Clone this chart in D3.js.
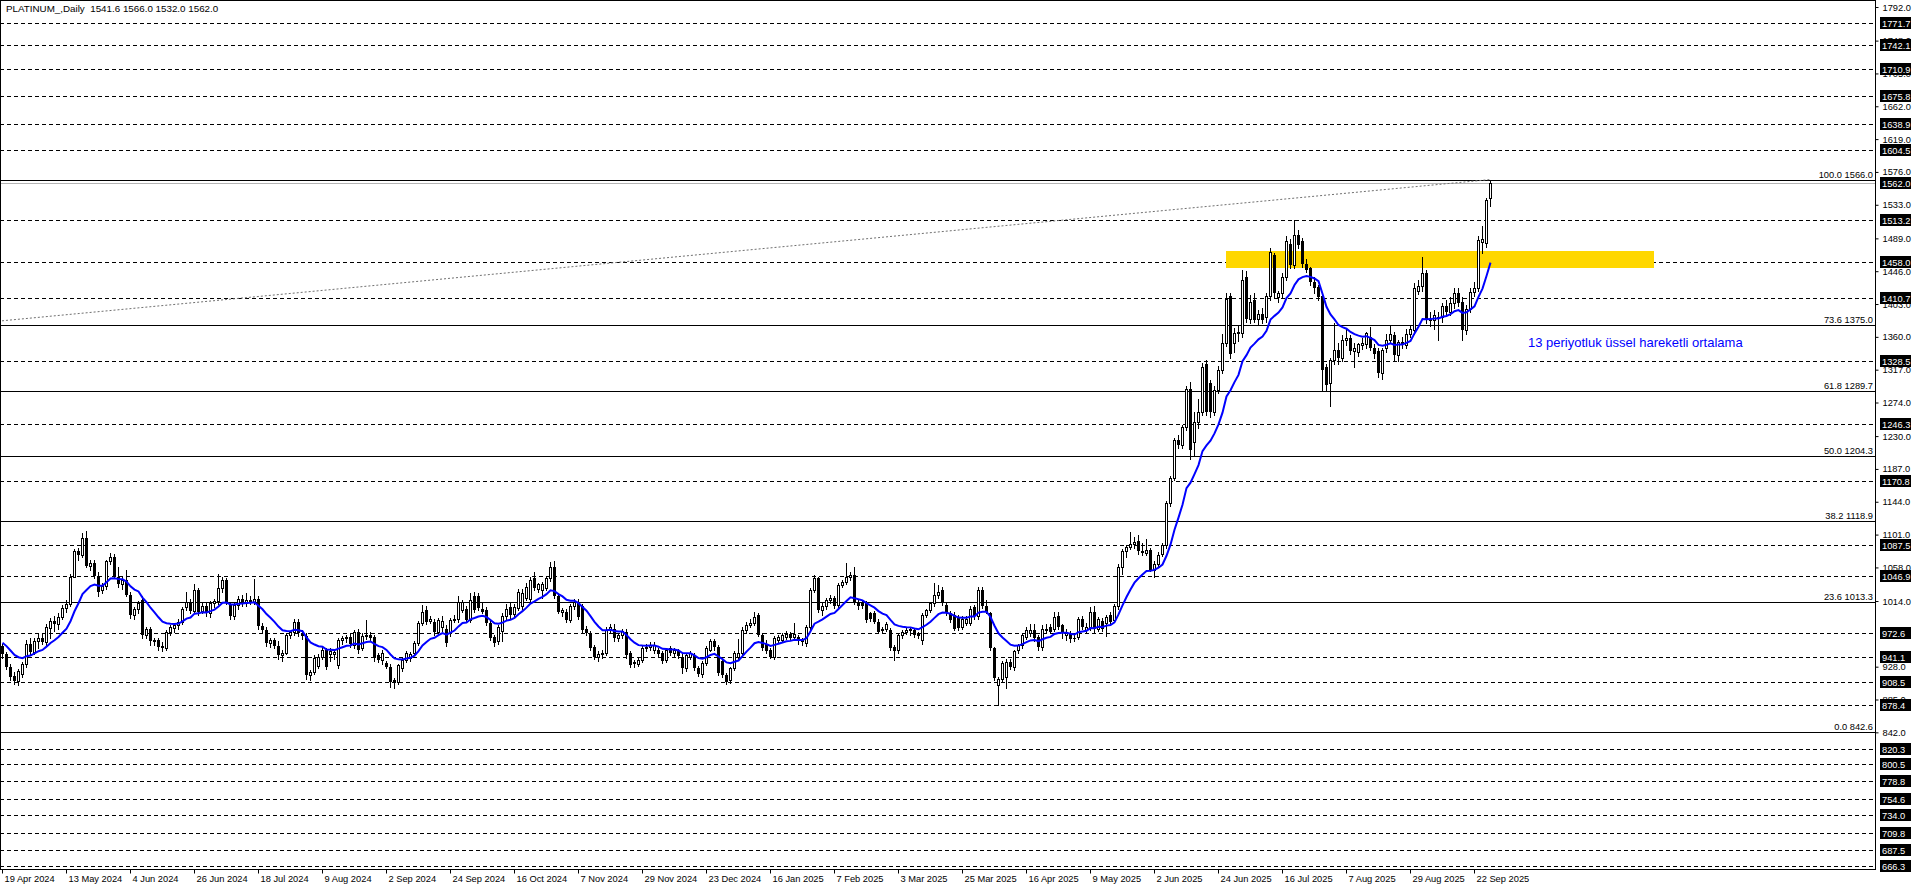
<!DOCTYPE html>
<html><head><meta charset="utf-8">
<script src="https://cdn.jsdelivr.net/npm/d3@7"></script>
<style>
body{margin:0;background:#fff;}
svg{display:block;}
text{font-family:"Liberation Sans",Arial,sans-serif;}
</style>
</head><body>
<svg id="c" width="1916" height="888"></svg>
<script>
// ---------------- DATA ----------------
const symbolTitle = "PLATINUM_,Daily";
const lastBarValues = ["1541.6","1566.0","1532.0","1562.0"];
const startDate = "2024-04-19";
const holidays = ["2024-12-25","2025-01-01","2025-04-18"];

const open = [
955,944,928,916,909,918,931,958,947,962,
966,960,979,988,984,993,1005,1010,1046,1079,
1074,1096,1060,1064,1047,1028,1034,1066,1072,1046,
1036,1042,1022,996,1003,1015,970,977,961,963,
955,952,973,979,983,987,1006,1013,1001,1028,
1001,1008,998,1011,1014,1031,1042,1010,995,1009,
1017,1012,1015,1013,1016,981,976,959,963,955,
943,946,969,973,987,972,968,917,921,929,
941,950,945,944,930,963,965,967,957,974,
952,968,969,967,943,937,933,928,911,908,
926,937,940,946,959,985,1002,988,987,974,
980,978,972,989,990,1002,1004,989,1020,1020,
1004,1002,985,967,961,975,995,1006,997,1005,
1008,1018,1016,1044,1030,1029,1031,1044,1059,1020,
1000,1000,989,1007,1013,1007,978,972,954,941,
944,946,976,978,965,969,974,946,934,932,
937,952,954,950,950,946,937,952,946,948,
941,926,941,943,926,919,933,950,961,954,
936,917,911,926,941,946,976,983,985,996,
970,958,950,941,963,963,967,971,967,967,
961,959,980,1029,1044,1002,1008,1015,1018,1009,
1035,1039,1046,1048,1013,1011,1011,998,998,987,
976,978,976,954,950,969,974,976,976,969,
963,996,1002,1011,1022,1029,1009,998,996,993,
980,985,985,1006,994,1029,1007,998,952,904,
912,914,934,928,950,956,967,972,976,967,
954,976,980,978,995,982,970,972,966,967,
991,976,980,1000,978,988,985,996,989,1007,
1059,1079,1085,1089,1092,1079,1077,1081,1055,1063,
1076,1087,1142,1175,1225,1218,1242,1292,1222,1248,
1262,1325,1299,1262,1290,1317,1352,1413,1352,1365,
1365,1439,1384,1408,1384,1390,1386,1413,1467,1412,
1417,1439,1482,1454,1493,1485,1456,1450,1432,1425,
1413,1321,1299,1330,1343,1332,1356,1358,1341,1340,
1349,1350,1360,1345,1341,1312,1345,1356,1362,1336,
1353,1349,1364,1369,1420,1426,1443,1382,1382,1386,
1386,1400,1393,1404,1417,1406,1369,1397,1419,1424,
1484,1483,1541.6];

const high = [
958,947,932,921,925,934,963,965,966,972,
972,984,992,994,998,1009,1015,1050,1082,1083,
1103,1106,1068,1068,1052,1038,1068,1077,1075,1058,
1045,1055,1026,1006,1014,1020,980,980,966,966,
960,976,982,985,990,1006,1026,1016,1036,1031,
1012,1013,1014,1017,1050,1046,1044,1012,1012,1020,
1022,1024,1020,1043,1020,985,980,966,965,962,
950,972,975,991,990,976,972,924,943,945,
954,953,952,950,966,968,970,972,976,978,
972,989,973,970,946,950,936,931,913,932,
940,948,947,961,988,1009,1008,994,990,992,
994,982,992,996,1020,1015,1008,1024,1026,1025,
1012,1006,988,970,983,998,1010,1013,1010,1030,
1030,1037,1045,1052,1038,1039,1047,1065,1066,1024,
1005,1003,1010,1016,1016,1010,981,975,956,948,
950,980,984,984,972,978,978,948,937,940,
955,958,960,960,953,949,952,955,952,951,
944,946,948,946,929,936,955,964,964,956,
938,920,928,948,964,980,986,990,1000,998,
972,963,952,968,970,972,975,974,985,970,
966,982,1031,1048,1046,1012,1018,1022,1020,1037,
1042,1064,1052,1058,1016,1014,1014,1000,1001,990,
980,986,979,957,972,976,979,980,978,973,
998,1004,1013,1037,1035,1032,1012,1001,999,996,
994,994,1007,1009,1032,1033,1015,1000,954,915,
936,938,938,950,958,972,980,984,984,970,
982,984,984,1000,999,984,978,975,970,993,
994,985,1006,1008,993,992,996,1000,1010,1062,
1082,1088,1105,1098,1100,1090,1095,1084,1066,1078,
1090,1145,1178,1228,1232,1245,1295,1301,1262,1278,
1326,1330,1304,1295,1322,1364,1418,1418,1372,1376,
1447,1446,1415,1418,1395,1398,1418,1476,1470,1420,
1444,1492,1488,1513,1500,1490,1462,1452,1438,1428,
1418,1325,1332,1378,1352,1362,1372,1362,1352,1352,
1358,1367,1373,1350,1345,1346,1364,1375,1366,1356,
1360,1370,1376,1430,1435,1464,1448,1392,1395,1392,
1404,1408,1412,1424,1424,1412,1402,1424,1432,1492,
1505,1542,1566.0];

const low = [
940,925,910,905,904,915,928,944,944,953,
958,957,966,975,978,990,1000,1008,1045,1068,
1072,1058,1055,1044,1020,1024,1030,1062,1044,1032,
1030,1020,992,990,998,966,965,957,956,950,
948,950,970,974,978,984,1002,998,998,996,
998,994,993,1006,1010,1026,1010,990,990,1004,
1008,1008,1010,1010,978,972,955,954,952,938,
936,944,965,970,968,964,912,910,918,926,
938,925,936,938,926,958,960,954,952,946,
950,964,962,936,934,932,926,902,900,905,
922,934,936,943,956,982,984,985,970,971,
975,955,968,986,987,999,986,986,1000,1002,
998,983,963,955,958,962,990,992,994,1002,
1004,1015,1013,1029,1026,1018,1028,1040,1018,998,
995,987,986,1004,990,974,970,950,938,936,
940,943,972,962,962,966,940,927,928,929,
934,948,950,946,941,933,934,943,942,939,
920,922,938,923,916,914,930,948,950,917,
914,905,907,924,938,944,972,980,982,968,
950,946,939,938,960,960,964,963,964,958,
956,955,978,1026,1000,996,1004,1012,1005,1006,
1032,1036,1042,1010,1004,1005,987,988,985,972,
973,975,950,937,946,966,971,970,967,965,
958,993,999,1008,1018,1009,996,987,976,976,
977,982,982,991,991,1005,998,950,910,878,
908,900,925,924,946,953,964,968,962,950,
950,972,972,975,978,966,963,960,962,964,
978,973,976,974,975,975,968,985,986,1004,
1050,1072,1082,1084,1075,1074,1074,1053,1045,1060,
1073,1084,1138,1172,1215,1214,1238,1200,1205,1240,
1258,1258,1255,1258,1286,1313,1348,1332,1340,1355,
1360,1380,1378,1380,1376,1378,1380,1408,1412,1405,
1412,1435,1450,1450,1476,1452,1445,1428,1418,1408,
1290,1290,1270,1325,1324,1328,1349,1338,1320,1335,
1344,1346,1343,1332,1308,1305,1340,1352,1330,1328,
1345,1345,1360,1364,1416,1420,1378,1374,1370,1356,
1380,1388,1388,1398,1400,1356,1364,1392,1414,1420,
1470,1478,1532.0];

const close = [
944,928,915,909,922,931,958,947,962,966,
960,980,988,984,993,1005,1010,1046,1079,1074,
1096,1060,1064,1047,1026,1034,1066,1072,1046,1036,
1041,1022,996,1003,1012,970,977,961,963,954,
952,973,980,983,987,1004,1013,1001,1028,1000,
1008,998,1011,1014,1031,1042,1013,995,1009,1017,
1012,1015,1013,1016,981,976,959,963,955,943,
946,969,973,987,972,968,917,921,940,941,
950,928,949,947,963,965,967,958,974,950,
968,969,966,939,937,946,928,908,908,930,
937,946,945,959,985,1000,987,990,974,989,
988,959,989,991,1013,1013,989,1015,1002,1005,
1000,985,965,959,980,995,1004,996,1006,1026,
1025,1033,1042,1031,1036,1036,1044,1059,1020,1000,
1002,989,1007,1013,993,976,972,952,941,945,
946,976,980,965,969,975,943,930,932,937,
952,954,957,957,944,935,950,946,950,942,
926,943,946,926,919,933,952,961,954,920,
917,908,926,946,946,976,983,985,993,970,
952,948,941,965,967,969,971,965,971,961,
963,980,1029,1044,1002,1008,1015,1018,1007,1035,
1039,1046,1048,1011,1007,1007,989,991,987,974,
978,984,952,948,969,974,976,978,969,971,
996,1002,1011,1022,1026,1011,998,989,978,979,
991,991,1004,994,1029,1007,1000,952,913,912,
933,934,928,948,956,969,976,976,965,954,
978,978,974,993,980,974,972,964,964,991,
980,980,1000,978,991,978,993,987,1007,1059,
1079,1085,1089,1091,1079,1077,1081,1055,1063,1074,
1087,1142,1175,1225,1218,1242,1292,1212,1248,1262,
1321,1262,1262,1290,1317,1352,1410,1338,1365,1367,
1435,1384,1406,1382,1390,1382,1413,1471,1417,1417,
1439,1485,1454,1493,1480,1456,1448,1432,1424,1412,
1317,1297,1330,1343,1332,1356,1358,1341,1346,1350,
1352,1365,1345,1338,1312,1343,1356,1364,1336,1353,
1351,1364,1370,1424,1426,1443,1382,1384,1388,1385,
1400,1393,1404,1417,1404,1369,1397,1419,1424,1487,
1488,1539,1562.0];

const emaPeriod = 13;
const emaSeed = 962;               // EMA value carried in from before the first bar

const levelLines = [1771.7,1742.1,1710.9,1675.8,1638.9,1604.5,1513.2,1458.0,1410.7,1328.5,
  1246.3,1170.8,1087.5,1046.9,972.6,941.1,908.5,878.4,820.3,800.5,778.8,754.6,734.0,709.8,687.5,666.3];
const fibRatios = ["100.0","73.6","61.8","50.0","38.2","23.6","0.0"];
const fibPrices = [1566.0,1375.0,1289.7,1204.3,1118.9,1013.3,842.6];
const fibTrend = {fromBar:0, fromPrice:1381, toBar:372, toPrice:1566.0};
const bidPrice = 1562.0;
// scale labels (those fully covered by price tags are not drawn)
const priceTicks = [1792.0,1748.0,1705.0,1662.0,1619.0,1576.0,1533.0,1489.0,1446.0,1403.0,1360.0,1317.0,
  1274.0,1230.0,1187.0,1144.0,1101.0,1058.0,1014.0,928.0,885.0,842.0];
const dateTicks = ["19 Apr 2024","13 May 2024","4 Jun 2024","26 Jun 2024","18 Jul 2024","9 Aug 2024",
  "2 Sep 2024","24 Sep 2024","16 Oct 2024","7 Nov 2024","29 Nov 2024","23 Dec 2024","16 Jan 2025",
  "7 Feb 2025","3 Mar 2025","25 Mar 2025","16 Apr 2025","9 May 2025","2 Jun 2025","24 Jun 2025",
  "16 Jul 2025","7 Aug 2025","29 Aug 2025","22 Sep 2025"];
const zone = {fromBar:306, toBar:413, top:1472, bottom:1450};
const note = {text:"13 periyotluk üssel hareketli ortalama", bar:381.5, price:1347};

// ---------------- CATEGORIES (trading days) ----------------
const parse = d3.utcParse("%Y-%m-%d"), fmtKey = d3.utcFormat("%Y-%m-%d"), fmtLab = d3.utcFormat("%-d %b %Y");
const categories = [];
for (let d = parse(startDate); categories.length < close.length; d = d3.utcDay.offset(d, 1)) {
  const wd = d.getUTCDay();
  if (wd === 0 || wd === 6 || holidays.includes(fmtKey(d))) continue;
  categories.push(d);
}
const bars = close.map((c, i) => ({i, o: open[i], h: high[i], l: low[i], c}));

// EMA
const alpha = 2 / (emaPeriod + 1);
let prev = emaSeed;
const ema = close.map(c => (prev = prev + alpha * (c - prev)));

// ---------------- LAYOUT ----------------
const plotR = 1875, plotB = 869;
const x = d3.scaleLinear().domain([0, 1]).range([2, 6]);          // 4px per bar
const y = d3.scaleLinear().domain([663.0, 1801.2]).range([plotB, 0]);
const snap = v => Math.round(v) + 0.5;
const svg = d3.select("#c");
svg.append("defs").append("clipPath").attr("id", "clip")
  .append("rect").attr("x", 0).attr("y", 0).attr("width", plotR).attr("height", plotB);
const plot = svg.append("g").attr("clip-path", "url(#clip)").attr("shape-rendering", "crispEdges");

// dashed horizontal lines
plot.selectAll("line.lvl").data(levelLines).join("line").attr("class", "lvl")
  .attr("x1", 0).attr("x2", plotR).attr("y1", d => snap(y(d))).attr("y2", d => snap(y(d)))
  .attr("stroke", "#000").attr("stroke-width", 1).attr("stroke-dasharray", "4,3");

// yellow zone
plot.append("rect")
  .attr("x", x(zone.fromBar)).attr("width", x(zone.toBar) - x(zone.fromBar))
  .attr("y", Math.round(y(zone.top))).attr("height", Math.round(y(zone.bottom)) - Math.round(y(zone.top)))
  .attr("fill", "#FFD700");

// fibo levels
plot.selectAll("line.fib").data(fibPrices).join("line").attr("class", "fib")
  .attr("x1", 0).attr("x2", plotR).attr("y1", d => snap(y(d))).attr("y2", d => snap(y(d)))
  .attr("stroke", "#000").attr("stroke-width", 1);

// bid line
plot.append("line").attr("x1", 0).attr("x2", plotR)
  .attr("y1", snap(y(bidPrice))).attr("y2", snap(y(bidPrice)))
  .attr("stroke", "#b4b4b4").attr("stroke-width", 1);

// fibo trend line (dotted)
plot.append("line")
  .attr("x1", x(fibTrend.fromBar)).attr("y1", y(fibTrend.fromPrice))
  .attr("x2", x(fibTrend.toBar)).attr("y2", y(fibTrend.toPrice))
  .attr("stroke", "#707070").attr("stroke-width", 1).attr("stroke-dasharray", "2,2")
  .attr("shape-rendering", "auto");

// candles
const cg = plot.append("g");
cg.selectAll("line.wick").data(bars).join("line").attr("class", "wick")
  .attr("x1", d => x(d.i) + 0.5).attr("x2", d => x(d.i) + 0.5)
  .attr("y1", d => Math.round(y(d.h))).attr("y2", d => Math.round(y(d.l)) + 1)
  .attr("stroke", "#000");
cg.selectAll("rect.body").data(bars).join("rect").attr("class", "body")
  .each(function (d) {
    const top = Math.round(y(Math.max(d.o, d.c))), bot = Math.round(y(Math.min(d.o, d.c)));
    const s = d3.select(this);
    if (d.c >= d.o) {
      s.attr("x", x(d.i) - 0.5).attr("width", 2).attr("y", top + 0.5).attr("height", Math.max(bot - top, 0))
        .attr("fill", "#fff").attr("stroke", "#000");
    } else {
      s.attr("x", x(d.i) - 1).attr("width", 3).attr("y", top).attr("height", Math.max(bot - top, 1))
        .attr("fill", "#000");
    }
  });

// EMA
plot.append("path").datum(ema)
  .attr("d", d3.line().x((d, i) => x(i) + 0.5).y(d => y(d)))
  .attr("fill", "none").attr("stroke", "#0000ff").attr("stroke-width", 2)
  .attr("shape-rendering", "auto");

// fibo labels
plot.selectAll("text.fibl").data(fibPrices).join("text").attr("class", "fibl")
  .attr("x", plotR - 2).attr("y", d => Math.round(y(d)) - 2).attr("text-anchor", "end")
  .style("font-size", "9.3px").attr("fill", "#000")
  .text((d, i) => fibRatios[i] + " " + d.toFixed(1));

// annotation
svg.append("text").attr("x", x(note.bar)).attr("y", y(note.price))
  .style("font-size", "13px").attr("fill", "#0000ff").text(note.text);

// title
svg.append("text").attr("x", 6).attr("y", 12).style("font-size", "9.8px").attr("fill", "#000")
  .attr("xml:space", "preserve")
  .text(symbolTitle + "  " + lastBarValues.join(" "));

// frame
svg.append("rect").attr("x", 0.5).attr("y", 0.5).attr("width", plotR).attr("height", plotB)
  .attr("fill", "none").attr("stroke", "#000").attr("shape-rendering", "crispEdges");

// price axis
const yAxis = d3.axisRight(y).tickValues(priceTicks).tickSize(3).tickSizeOuter(0)
  .tickFormat(d3.format(".1f"));
const gy = svg.append("g").attr("transform", `translate(${plotR + 0.5},0)`).call(yAxis);
gy.select(".domain").remove();
gy.selectAll("text").attr("x", 7).style("font-size", "9.3px").style("font-family", "Liberation Sans, Arial, sans-serif").attr("fill", "#000");
gy.selectAll("line").attr("stroke", "#000");

// price tags for horizontal lines + bid
const tags = levelLines.concat([bidPrice]);
const tg = svg.append("g");
tags.forEach(p => {
  const yy = Math.round(y(p));
  tg.append("rect").attr("x", plotR + 5).attr("y", yy - 6).attr("width", 31).attr("height", 12).attr("fill", "#000");
  tg.append("text").attr("x", plotR + 7).attr("y", yy + 3.5).style("font-size", "9.3px").attr("fill", "#fff")
    .text(p.toFixed(1));
});

// date axis
const tickIdx = dateTicks.map(s => categories.findIndex(d => fmtLab(d) === s));
const xAxis = d3.axisBottom(x).tickValues(tickIdx).tickSize(4).tickSizeOuter(0)
  .tickFormat((d, i) => dateTicks[i]);
const gx = svg.append("g").attr("transform", `translate(0,${plotB + 0.5})`).call(xAxis);
gx.select(".domain").remove();
gx.selectAll("text").attr("text-anchor", "start").attr("x", 2).attr("y", 6)
  .style("font-size", "9.3px").style("font-family", "Liberation Sans, Arial, sans-serif").attr("fill", "#000");
gx.selectAll("line").attr("stroke", "#000");
</script>
</body></html>
